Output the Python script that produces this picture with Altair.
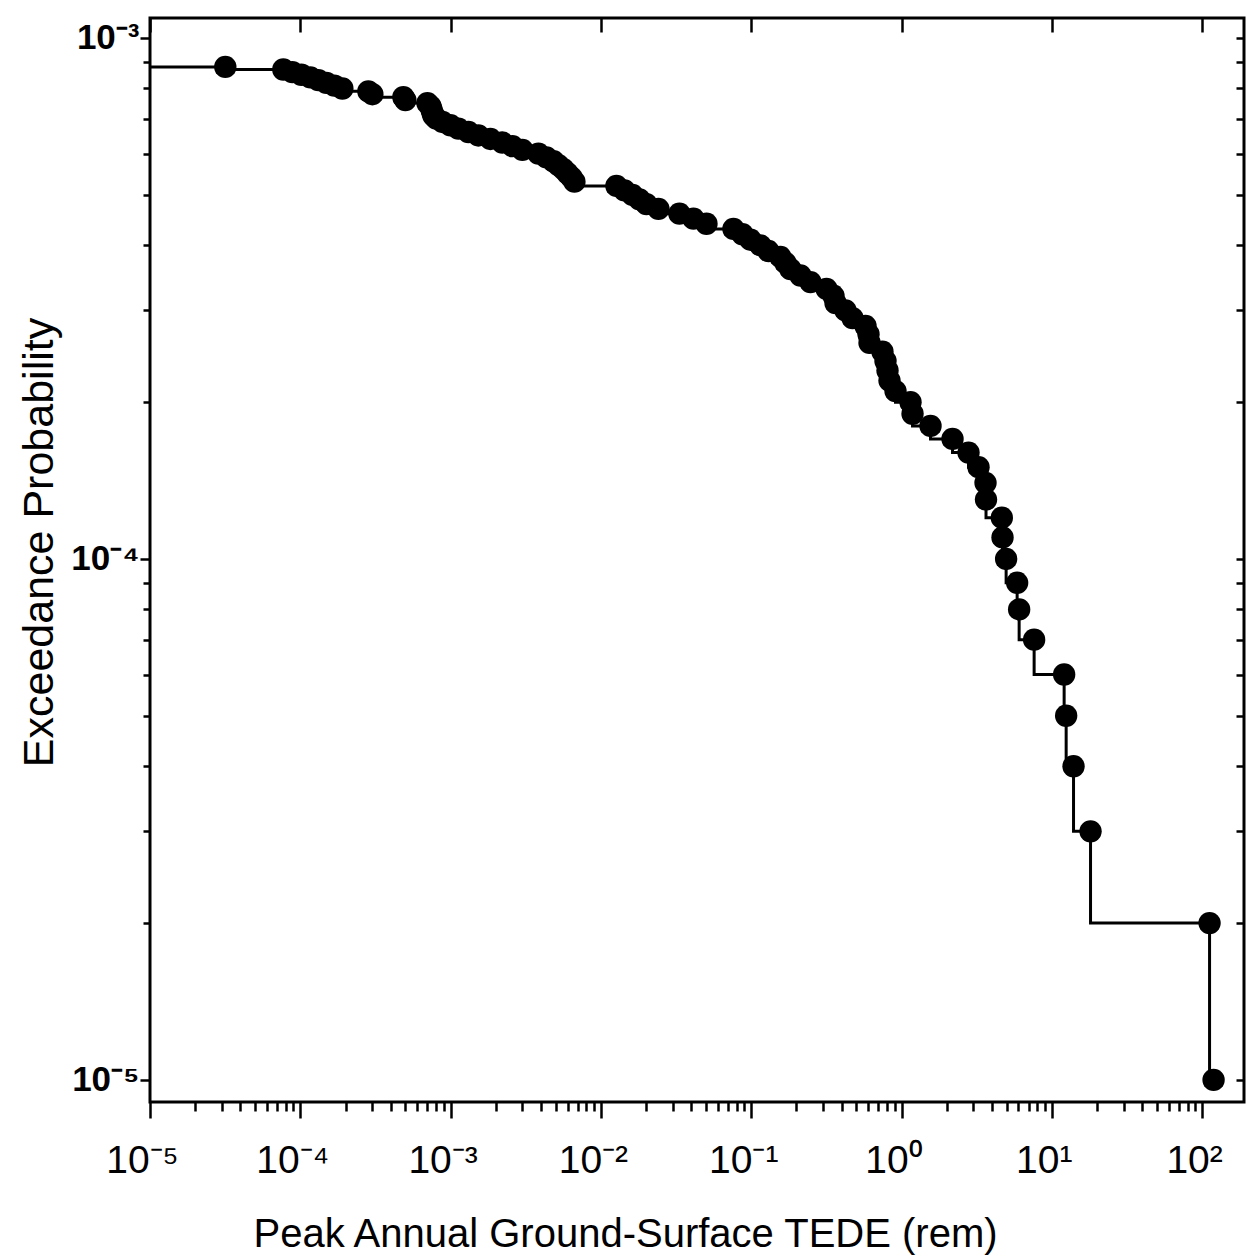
import altair as alt
import pandas as pd

# ---- data (highest exceedance probability first) ----
peak_dose_rem = [
    3.17e-5, 7.71e-5, 8.85e-5, 1.016e-4, 1.166e-4, 1.318e-4, 1.490e-4, 1.684e-4,
    1.905e-4, 2.836e-4, 3.016e-4, 4.85e-4, 5.00e-4, 7.01e-4, 7.34e-4, 7.45e-4,
    7.56e-4, 7.68e-4, 8.04e-4, 8.82e-4, 9.97e-4, 1.127e-3, 1.313e-3, 1.530e-3,
    1.839e-3, 2.211e-3, 2.578e-3, 3.004e-3, 3.838e-3, 4.339e-3, 4.83e-3, 5.216e-3,
    5.63e-3, 5.99e-3, 6.365e-3, 6.665e-3, 1.269e-2, 1.434e-2, 1.621e-2, 1.805e-2,
    2.009e-2, 2.414e-2, 3.331e-2, 4.127e-2, 5.04e-2, 7.62e-2, 8.75e-2, 9.89e-2,
    0.1152, 0.1302, 0.1565, 0.1690, 0.1825, 0.2127, 0.2479, 0.3168,
    0.3528, 0.3638, 0.4239, 0.4720, 0.5760, 0.6032, 0.6125, 0.7473,
    0.7824, 0.8070, 0.8320, 0.9122, 1.148, 1.184, 1.560, 2.185,
    2.792, 3.254, 3.622, 3.65, 4.65, 4.70, 4.967, 5.880,
    6.063, 7.628, 12.08, 12.46, 13.95, 18.1, 112.1, 119.2,
]
exceed_prob = [
    88e-5, 87e-5, 86e-5, 85e-5, 84e-5, 83e-5, 82e-5, 81e-5,
    80e-5, 79e-5, 78e-5, 77e-5, 76e-5, 75e-5, 74e-5, 73e-5,
    72e-5, 71e-5, 70e-5, 69e-5, 68e-5, 67e-5, 66e-5, 65e-5,
    64e-5, 63e-5, 62e-5, 61e-5, 60e-5, 59e-5, 58e-5, 57e-5,
    56e-5, 55e-5, 54e-5, 53e-5, 52e-5, 51e-5, 50e-5, 49e-5,
    48e-5, 47e-5, 46e-5, 45e-5, 44e-5, 43e-5, 42e-5, 41e-5,
    40e-5, 39e-5, 38e-5, 37e-5, 36e-5, 35e-5, 34e-5, 33e-5,
    32e-5, 31e-5, 30e-5, 29e-5, 28e-5, 27e-5, 26e-5, 25e-5,
    24e-5, 23e-5, 22e-5, 21e-5, 20e-5, 19e-5, 18e-5, 17e-5,
    16e-5, 15e-5, 14e-5, 13e-5, 12e-5, 11e-5, 10e-5, 9e-5,
    8e-5, 7e-5, 6e-5, 5e-5, 4e-5, 3e-5, 2e-5, 1e-5,
]
# step line starts at the left edge of the plot at the first probability
line_start_dose = [1e-5]
line_start_prob = [88e-5]

x_exponents = [-5, -4, -3, -2, -1, 0, 1, 2]
x_tick_labels = ["10⁻⁵", "10⁻⁴", "10⁻³", "10⁻²", "10⁻¹", "10⁰", "10¹", "10²"]
y_exponents = [-5, -4, -3]
y_tick_labels = ["10⁻⁵", "10⁻⁴", "10⁻³"]
minor_mult = [2, 3, 4, 5, 6, 7, 8, 9]

X_MAX = 190
Y_MIN, Y_MAX = 9.07e-6, 1.0924e-3

x_major = [10.0 ** e for e in x_exponents]
y_major = [10.0 ** e for e in y_exponents]
x_minor = [m * t for t in x_major for m in minor_mult if m * t < X_MAX]
y_minor = [m * t for t in y_major for m in minor_mult if m * t < Y_MAX]


def label_expr(exps, labels):
    parts = "".join(
        f"round(log(datum.value)/LN10) == {e} ? '{lab}' : " for e, lab in zip(exps, labels)
    )
    return parts + "''"


df_pts = pd.DataFrame({"dose": peak_dose_rem, "prob": exceed_prob})
df_line = pd.DataFrame(
    {"dose": line_start_dose + peak_dose_rem, "prob": line_start_prob + exceed_prob}
)

W, H = 1094, 1084
FONT = "Liberation Sans"

xs = alt.Scale(type="log", domain=[1e-5, X_MAX], nice=False)
ys = alt.Scale(type="log", domain=[Y_MIN, Y_MAX], nice=False)

common_axis = dict(domain=False, grid=False, tickColor="black", tickWidth=2.5)

line = alt.Chart(df_line).mark_line(
    interpolate="step-before", color="black", strokeWidth=3
).encode(
    x=alt.X(
        "dose:Q",
        scale=xs,
        axis=alt.Axis(
            orient="bottom",
            values=x_major,
            labelExpr=label_expr(x_exponents, x_tick_labels),
            tickSize=16,
            labelFont=FONT,
            labelFontSize=39,
            labelColor="black",
            labelBaseline="alphabetic",
            labelPadding=54,
            labelOffset=-8,
            labelFlush=False,
            labelOverlap=False,
            title="Peak Annual Ground-Surface TEDE (rem)",
            titleFont=FONT,
            titleFontSize=40,
            titleFontWeight="normal",
            titleColor="black",
            titleX=475,
            titleY=144,
            titleAlign="center",
            titleBaseline="alphabetic",
            **common_axis,
        ),
    ),
    y=alt.Y(
        "prob:Q",
        scale=ys,
        axis=alt.Axis(
            orient="left",
            values=y_major,
            labelExpr=label_expr(y_exponents, y_tick_labels),
            tickSize=10,
            labelFont=FONT,
            labelFontSize=35,
            labelFontWeight="bold",
            labelColor="black",
            labelBaseline="middle",
            labelPadding=1,
            labelFlush=False,
            labelOverlap=False,
            title="Exceedance Probability",
            titleFont=FONT,
            titleFontSize=43,
            titleFontWeight="normal",
            titleColor="black",
            titleAngle=270,
            titleX=-98,
            titleY=524,
            titleAlign="center",
            titleBaseline="alphabetic",
            **common_axis,
        ),
    ),
)

points = alt.Chart(df_pts).mark_circle(size=500, color="black", opacity=1).encode(
    x=alt.X(
        "dose:Q",
        scale=xs,
        axis=alt.Axis(orient="bottom", values=x_minor, labels=False, tickSize=9,
                      title="", **common_axis),
    ),
    y=alt.Y(
        "prob:Q",
        scale=ys,
        axis=alt.Axis(orient="left", values=y_minor, labels=False, tickSize=7,
                      title="", **common_axis),
    ),
)

# inward ticks on the top and right edges of the frame
frame_ticks = alt.Chart(df_line).mark_line(strokeOpacity=0).encode(
    x=alt.X(
        "dose:Q",
        scale=xs,
        axis=alt.Axis(orient="bottom", offset=-H, values=x_major, labels=False,
                      tickSize=14, title="", **common_axis),
    ),
    y=alt.Y(
        "prob:Q",
        scale=ys,
        axis=alt.Axis(orient="left", offset=-W, values=y_major + y_minor, labels=False,
                      tickSize=8, title="", **common_axis),
    ),
)

chart = (
    alt.layer(line, points, frame_ticks)
    .resolve_axis(x="independent", y="independent")
    .properties(
        width=W,
        height=H,
        padding={"left": 150, "top": 18, "right": 2, "bottom": 157},
        autosize=alt.AutoSizeParams(type="none"),
        background="white",
    )
    .configure_view(stroke="black", strokeWidth=3)
)

chart.save("out.html", embed_options={"renderer": "svg", "actions": False})
